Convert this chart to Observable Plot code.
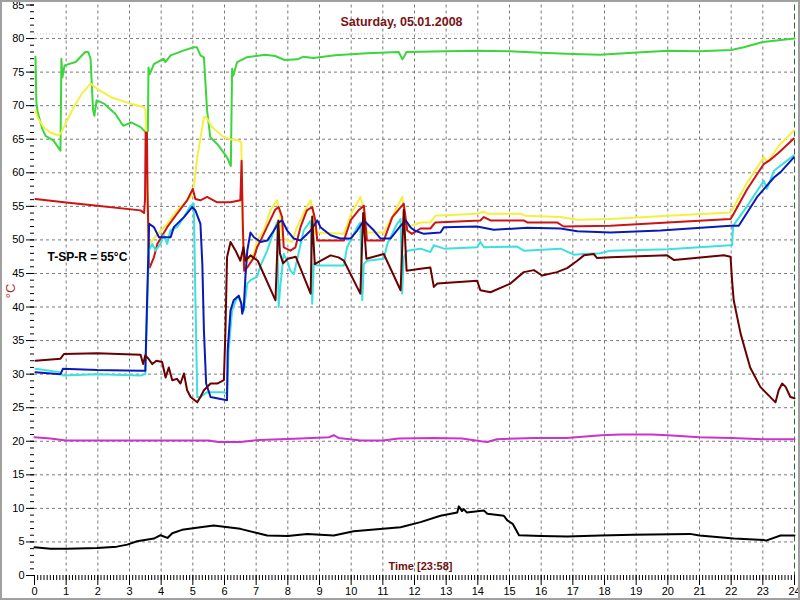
<!DOCTYPE html>
<html>
<head>
<meta charset="utf-8">
<script src="https://cdn.jsdelivr.net/npm/d3@7"></script>
<script src="https://cdn.jsdelivr.net/npm/@observablehq/plot@0.6"></script>
<style>
  html, body { margin: 0; padding: 0; background: #fff; }
  #chart svg { display: block; outline: 2px solid #a0a0a0; outline-offset: -2px; }
</style>
</head>
<body>
<div id="chart"></div>
<script>
// ---- labels ----
const titleText = "Saturday, 05.01.2008";
const xTitle = "Time [23:58]";
const yTitle = "°C";
const noteText = "T-SP-R = 55°C";

// ---- axes ----
const xMajorTicks = d3.range(0, 25, 1);
const xMinorTicks = d3.range(0, 240.5, 1).map(d => d / 10);
const yMajorTicks = d3.range(0, 86, 5);
const yMinorTicks = d3.range(0, 86, 1);
const gridHours = d3.range(1, 24, 1);
const gridLevels = d3.range(5, 81, 5);
const endHour = [24];
const limitLevel = [80.7];

// ---- series: [hour, °C] ----
const green = [[0.03,77.3],[0.06,70.5],[0.1,69],[0.25,66.5],[0.35,65.5],[0.6,64.8],[0.82,63.3],[0.85,77],[0.88,74.2],[0.95,76],[1.3,76.5],[1.6,78],[1.7,78],[1.77,77],[1.85,69.3],[1.89,68.5],[1.96,70.8],[2.2,70.3],[2.55,68.8],[2.8,67],[3.05,67.5],[3.35,66.8],[3.52,66],[3.58,66.2],[3.6,75.7],[3.64,74.7],[3.77,76.2],[4.08,77],[4.13,76.5],[4.3,77.5],[4.7,78.2],[5.03,78.7],[5.13,78.7],[5.24,77.5],[5.35,77.2],[5.45,69.3],[5.55,65.3],[5.77,64.3],[6.08,62.3],[6.2,61],[6.24,75.5],[6.28,74.5],[6.4,76.5],[6.7,77.2],[7.3,77.6],[7.6,77.4],[7.9,76.8],[8.3,76.9],[8.5,77.3],[8.8,77.1],[9.5,77.5],[10.5,77.8],[11.5,78],[11.62,76.9],[11.75,78],[13,78.1],[14,78.2],[15,78.1],[16,77.9],[17,77.7],[17.87,77.6],[18.9,77.9],[20,78.2],[21,78.1],[22,78.3],[22.4,78.7],[23,79.5],[24,80]];

const yellow = [[0.03,69.3],[0.1,68.2],[0.29,66.8],[0.5,66],[0.72,65.6],[0.82,65.8],[1.0,67.5],[1.24,69.8],[1.5,71.8],[1.77,73.3],[1.98,72.5],[2.4,71.3],[3.03,70.3],[3.45,69.8],[3.5,69.3],[3.53,66],[3.6,48.5],[3.65,49.5],[3.8,50.4],[4.19,52.4],[4.5,54.4],[4.93,56.4],[5.03,57.9],[5.14,62.3],[5.35,68.3],[5.42,68.3],[5.61,66.8],[5.98,65.3],[6.19,65],[6.45,64.8],[6.53,64.5],[6.58,50],[6.63,46],[6.72,46.9],[6.93,47.9],[7.03,49.9],[7.24,51.4],[7.45,54.4],[7.66,55.9],[7.75,54],[7.82,50.4],[7.87,50.2],[8.13,49.7],[8.29,51.9],[8.55,54.5],[8.72,55.9],[8.8,54],[8.87,50.9],[8.93,51.1],[9.77,50.9],[10.0,53.9],[10.29,56.4],[10.43,53.9],[10.5,51.1],[11.03,51.1],[11.3,53.5],[11.61,56.4],[11.72,53],[11.77,51.9],[12.19,52.6],[12.5,52.6],[12.66,53.6],[13.98,53.9],[14.19,54.2],[14.3,53.9],[15.35,53.9],[15.5,53.6],[16.61,53.4],[17.14,53.0],[18.19,53.1],[20,53.6],[21.98,54.1],[22.08,54.9],[22.5,58.5],[23.03,62.3],[23.15,61.6],[23.5,64],[23.98,66.3]];

const red = [[0.03,56.1],[0.93,55.6],[1.98,55.1],[3.35,54.4],[3.46,54.0],[3.49,56],[3.51,66],[3.53,60],[3.55,66],[3.57,57],[3.62,46],[3.64,45.9],[3.77,47.4],[3.88,49.4],[4.19,51.9],[4.5,53.9],[4.82,55.9],[5.0,57.6],[5.08,56.1],[5.24,55.9],[5.45,56.4],[5.77,55.6],[6.19,55.6],[6.5,55.9],[6.54,61.8],[6.58,52],[6.62,45.4],[6.72,45.9],[6.93,47.4],[7.03,48.9],[7.14,49.9],[7.4,52.5],[7.6,54.5],[7.71,54.9],[7.82,53.4],[7.87,48.9],[8.08,48.4],[8.24,48.9],[8.4,51.9],[8.6,54.4],[8.77,54.9],[8.87,52.9],[8.93,49.9],[9.77,49.9],[9.98,52.9],[10.25,54.5],[10.4,55.1],[10.5,49.9],[11.03,49.9],[11.3,53.4],[11.66,55.4],[11.77,51.4],[11.92,50.9],[12.19,51.7],[12.5,51.7],[12.66,52.6],[14.08,52.9],[14.19,53.4],[14.4,52.9],[15.45,52.9],[15.56,52.6],[16.5,52.6],[16.71,52.0],[18.19,52.1],[20,52.6],[21.98,53.1],[22.08,53.9],[22.5,57.5],[23.03,61.3],[23.2,61.8],[23.5,63],[23.98,65.1]];

const brown = [[0.03,32.0],[0.82,32.3],[0.93,33.0],[1.98,33.1],[3.35,32.9],[3.43,31.5],[3.5,32.8],[3.6,32.3],[3.72,31.5],[3.85,32.0],[4.03,31.8],[4.14,29.5],[4.24,31.0],[4.35,29.1],[4.5,29.3],[4.61,28.6],[4.72,30.1],[4.82,27.6],[4.93,26.6],[5.14,25.8],[5.24,26.6],[5.35,27.6],[5.56,28.6],[5.77,28.6],[5.98,29.1],[6.03,36.5],[6.08,47.4],[6.19,49.7],[6.35,48.4],[6.5,46.9],[6.6,48.9],[6.66,46.9],[6.82,47.7],[7.05,46.9],[7.61,41.0],[7.7,52.9],[7.75,48.0],[7.85,46.5],[8.0,47.2],[8.25,47.5],[8.72,42.0],[8.77,53.5],[8.85,46.4],[9.0,46.8],[9.35,47.7],[9.6,47.4],[9.77,46.9],[10.29,42.0],[10.38,54.0],[10.48,47.2],[11.03,47.9],[11.56,42.5],[11.66,54.5],[11.75,45.4],[12.19,45.7],[12.5,45.9],[12.61,43.0],[12.72,43.5],[13.98,43.9],[14.08,42.5],[14.4,42.2],[15.03,43.5],[15.45,45.2],[15.77,45.5],[16.03,44.7],[16.5,45.2],[16.82,45.8],[17.14,46.9],[17.35,47.7],[17.66,47.9],[17.77,47.3],[18.19,47.4],[19.98,47.7],[20.2,47.0],[21.77,47.7],[21.98,47.5],[22.03,43.9],[22.08,41.0],[22.3,36.0],[22.6,31.0],[22.92,28.1],[23.4,25.8],[23.5,27.6],[23.61,28.6],[23.72,28.1],[23.87,26.6],[24,26.4]];

const blue = [[0.03,30.3],[0.82,30.0],[0.9,30.8],[1.98,30.6],[3.35,30.5],[3.5,30.5],[3.55,40],[3.62,52.4],[3.77,51.9],[3.93,50.4],[4.3,50.4],[4.4,51.9],[4.72,53.4],[4.98,54.9],[5.08,54.4],[5.24,52.4],[5.3,46.4],[5.35,36.5],[5.42,28.6],[5.56,26.6],[6.08,26.1],[6.1,33.5],[6.19,39.5],[6.29,41.0],[6.45,41.7],[6.53,40.5],[6.56,39.0],[6.61,40.0],[6.66,44.5],[6.72,48.4],[6.82,51.1],[6.93,50.4],[7.14,49.7],[7.35,49.9],[7.56,51.4],[7.71,52.6],[7.82,52.9],[7.98,51.4],[8.19,50.2],[8.4,49.9],[8.72,51.4],[8.93,52.9],[9.03,51.9],[9.35,50.7],[9.66,50.2],[9.98,50.2],[10.19,51.4],[10.4,52.9],[10.72,51.4],[10.93,50.2],[11.24,50.2],[11.56,52.1],[11.72,52.9],[11.87,51.9],[12.0,51.4],[12.3,50.9],[12.82,51.1],[12.93,51.9],[13.98,52.0],[14.5,51.5],[15.56,51.8],[16.61,51.7],[17.14,51.3],[18.19,51.1],[19.77,51.4],[21.98,52.1],[22.24,52.1],[22.82,56.4],[23.35,59.3],[23.56,60.1],[23.98,62.3]];

const cyan = [[0.03,30.8],[0.8,30.3],[0.9,29.8],[1.98,30.0],[3.35,29.8],[3.5,30.0],[3.61,48.4],[3.72,49.4],[3.82,48.4],[3.98,49.4],[4.08,50.7],[4.19,49.4],[4.29,51.4],[4.5,51.9],[4.72,53.4],[4.93,55.1],[5.03,55.4],[5.08,41.5],[5.14,26.6],[5.24,26.6],[5.45,27.3],[5.98,27.3],[6.08,27.1],[6.13,33.5],[6.24,39.5],[6.4,41.5],[6.5,41.0],[6.61,39.5],[6.72,43.5],[6.82,44.0],[7.03,44.5],[7.14,46.2],[7.35,48.4],[7.56,51.4],[7.66,52.6],[7.71,40.0],[7.77,43.5],[7.87,47.9],[7.98,46.9],[8.08,45.4],[8.19,44.9],[8.5,51.4],[8.72,52.9],[8.77,40.5],[8.82,46.4],[8.93,46.2],[9.77,46.2],[9.87,48.9],[10.19,51.9],[10.29,52.6],[10.35,41.0],[10.4,46.4],[10.5,46.9],[11.03,47.2],[11.14,49.4],[11.45,52.4],[11.56,53.1],[11.61,42.0],[11.66,47.4],[11.77,48.4],[12.19,48.7],[12.5,48.2],[12.61,49.2],[12.93,48.7],[13.98,48.9],[14.08,49.7],[14.19,48.9],[15.24,49.0],[15.45,48.4],[16.61,48.7],[17.03,47.8],[17.35,47.9],[17.87,48.0],[18.19,48.4],[20,48.6],[21.98,49.2],[22.03,49.2],[22.06,52.1],[22.5,55],[23.03,58.8],[23.13,57.6],[23.35,60.3],[23.98,62.6]];

const magenta = [[0,20.6],[0.5,20.4],[1,20.1],[2,20.1],[5.5,20.1],[5.8,19.9],[6.5,19.9],[7.1,20.2],[8.4,20.4],[9.3,20.6],[9.45,20.9],[9.6,20.5],[10.3,20.1],[11,20.1],[11.5,20.4],[12.6,20.5],[13.5,20.4],[14.1,20],[14.3,19.9],[14.6,20.3],[15.8,20.5],[16.8,20.5],[17.9,20.9],[18.5,21],[19.5,21],[20,20.9],[21,20.6],[22,20.5],[23,20.3],[24,20.3]];

const black = [[0,4.2],[0.5,4.0],[1.03,4.0],[1.98,4.1],[2.6,4.3],[2.93,4.6],[3.24,5.1],[3.77,5.5],[3.98,6.0],[4.2,5.6],[4.35,6.3],[4.66,6.8],[5.24,7.2],[5.66,7.45],[6.5,6.95],[7.35,5.96],[8.0,5.9],[8.61,6.2],[9.45,5.96],[10.08,6.6],[11.56,7.2],[12.19,7.95],[12.82,8.9],[13.35,9.4],[13.4,10.3],[13.5,9.6],[13.55,9.9],[13.65,9.4],[14.19,9.7],[14.3,9.2],[14.82,8.9],[14.93,8.2],[15.1,7.7],[15.3,6.0],[16.0,5.9],[16.82,5.8],[17.87,5.96],[18.9,6.06],[20.7,6.2],[21.0,5.96],[22.08,5.5],[23.03,5.3],[23.1,5.2],[23.56,5.96],[24,5.96]];

const seriesList = [
  {data: green,   color: "#3cd63c"},
  {data: yellow,  color: "#f5f040"},
  {data: red,     color: "#cc1414"},
  {data: cyan,    color: "#3ce0e0"},
  {data: blue,    color: "#0a1ab8"},
  {data: brown,   color: "#6a0000"},
  {data: magenta, color: "#cc33cc"},
  {data: black,   color: "#000000"}
];

const chart = Plot.plot({
  width: 800,
  height: 600,
  marginLeft: 34,
  marginRight: 6,
  marginTop: 4.5,
  marginBottom: 25,
  style: {fontFamily: "'Liberation Sans', Arial, sans-serif", fontSize: "11px", background: "#fff", color: "#000", overflow: "visible"},
  x: {domain: [0, 24]},
  y: {domain: [0, 85]},
  marks: [
    Plot.ruleX(gridHours, {stroke: "#7a7a7a", strokeDasharray: "3,3", strokeWidth: 1}),
    Plot.ruleY(gridLevels, {stroke: "#7a7a7a", strokeDasharray: "3,3", strokeWidth: 1}),
    Plot.ruleY(limitLevel, {stroke: "#c8c8c8", strokeDasharray: "1,2", strokeWidth: 1}),
    Plot.ruleX(endHour, {stroke: "#2d6e2d", strokeDasharray: "6,3", strokeWidth: 1}),
    Plot.axisX(xMinorTicks, {tickSize: 5, tickFormat: () => "", stroke: "#000"}),
    Plot.axisX(xMajorTicks, {tickSize: 10, tickPadding: 2, label: null, stroke: "#000", fill: "#000"}),
    Plot.axisY(yMinorTicks, {tickSize: 4, tickFormat: () => "", stroke: "#000"}),
    Plot.axisY(yMajorTicks, {tickSize: 8, tickPadding: 2, label: null, stroke: "#000", fill: "#000"}),
    ...seriesList.map(s => Plot.line(s.data, {x: d => d[0], y: d => d[1], stroke: s.color, strokeWidth: 2, strokeLinejoin: "round"})),
    Plot.text([titleText], {frameAnchor: "top", dx: -13, dy: 12.5, fill: "#7a1414", fontWeight: "bold", fontSize: 12.5}),
    Plot.text([xTitle], {frameAnchor: "bottom", dx: 6, dy: -6, fill: "#6e1010", fontWeight: "bold", fontSize: 11}),
    Plot.text([yTitle], {frameAnchor: "left", dx: -24, dy: 8, rotate: -90, fill: "#b03030", fontSize: 13}),
    Plot.text([noteText], {frameAnchor: "left", textAnchor: "start", dx: 13, dy: -33, fill: "#000", fontWeight: "bold", fontSize: 12})
  ]
});
document.getElementById("chart").appendChild(chart);
</script>
</body>
</html>
